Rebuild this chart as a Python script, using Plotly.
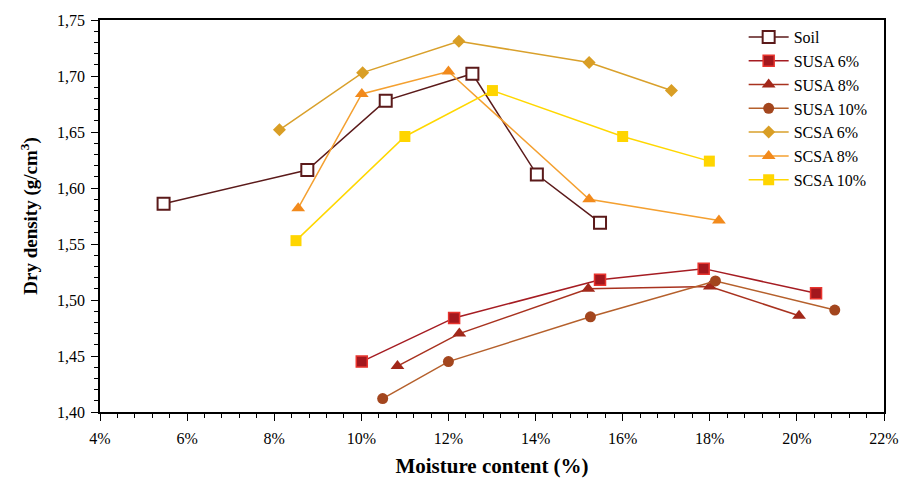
import plotly.graph_objects as go

# ---- data (moisture %, dry density g/cm3) ----
soil_x = [5.46, 8.76, 10.56, 12.55, 14.03, 15.48]
soil_y = [1.586, 1.616, 1.678, 1.702, 1.612, 1.569]

susa6_x = [10.01, 12.13, 15.48, 17.86, 20.44]
susa6_y = [1.445, 1.484, 1.518, 1.528, 1.506]

susa8_x = [10.83, 12.25, 15.21, 18.00, 20.05]
susa8_y = [1.441, 1.470, 1.510, 1.512, 1.486]

susa10_x = [10.49, 12.00, 15.26, 18.13, 20.87]
susa10_y = [1.412, 1.445, 1.485, 1.517, 1.491]

scsa6_x = [8.12, 10.03, 12.24, 15.23, 17.12]
scsa6_y = [1.652, 1.703, 1.731, 1.712, 1.687]

scsa8_x = [8.55, 10.01, 12.00, 15.23, 18.21]
scsa8_y = [1.582, 1.684, 1.704, 1.590, 1.571]

scsa10_x = [8.50, 11.00, 13.01, 16.00, 17.99]
scsa10_y = [1.553, 1.646, 1.687, 1.646, 1.624]

x_ticks = [4, 6, 8, 10, 12, 14, 16, 18, 20, 22]
x_tick_labels = ["4%", "6%", "8%", "10%", "12%", "14%", "16%", "18%", "20%", "22%"]
y_ticks = [1.40, 1.45, 1.50, 1.55, 1.60, 1.65, 1.70, 1.75]
y_tick_labels = ["1,40", "1,45", "1,50", "1,55", "1,60", "1,65", "1,70", "1,75"]

series = [
    ("Soil", soil_x, soil_y, "#5B1A1A", dict(symbol="square", size=12, color="white",
                                            line=dict(color="#5B1A1A", width=2))),
    ("SUSA 6%", susa6_x, susa6_y, "#A51C22", dict(symbol="square", size=11, color="#A3171D",
                                               line=dict(color="#E8342E", width=1.5))),
    ("SUSA 8%", susa8_x, susa8_y, "#A8321F", dict(symbol="triangle-up", size=12, color="#A2281A",
                                               line=dict(width=0))),
    ("SUSA 10%", susa10_x, susa10_y, "#B5602C", dict(symbol="circle", size=11, color="#A3461E",
                                                 line=dict(width=0))),
    ("SCSA 6%", scsa6_x, scsa6_y, "#D9A02B", dict(symbol="diamond", size=10, color="#D99E25",
                                               line=dict(width=0))),
    ("SCSA 8%", scsa8_x, scsa8_y, "#F4A030", dict(symbol="triangle-up", size=12, color="#F28A1C",
                                               line=dict(width=0))),
    ("SCSA 10%", scsa10_x, scsa10_y, "#FFD700", dict(symbol="square", size=11, color="#FFD500",
                                                 line=dict(width=0))),
]

fig = go.Figure()
for name, xs, ys, lc, mk in series:
    fig.add_trace(go.Scatter(x=xs, y=ys, name=name, mode="lines+markers",
                             line=dict(color=lc, width=1.5), marker=mk))

font_family = "Liberation Serif, Times New Roman, serif"

fig.update_layout(
    width=907, height=482,
    margin=dict(l=92, r=31, t=12, b=78, autoexpand=False),
    plot_bgcolor="white", paper_bgcolor="white",
    font=dict(family=font_family, size=16, color="black"),
    showlegend=True,
    legend=dict(x=0.821, y=1.0, xanchor="left", yanchor="top",
                bgcolor="rgba(0,0,0,0)", font=dict(size=16, family=font_family),
                tracegroupgap=0, itemwidth=40),
)

fig.update_xaxes(
    range=[4, 22], tickvals=x_ticks, ticktext=x_tick_labels, automargin=False,
    showgrid=False, zeroline=False,
    showline=True, linecolor="black", linewidth=1.5, mirror=True,
    ticks="outside", ticklen=7, tickwidth=1.2, tickcolor="black",
    ticklabelstandoff=4,
    minor=dict(dtick=0.4, ticks="outside", ticklen=4, tickwidth=1, tickcolor="black"),
    tickfont=dict(size=16, family=font_family),
    title=dict(text="<b>Moisture content (%)</b>", font=dict(size=21, family=font_family), standoff=12),
)
fig.update_yaxes(
    range=[1.40, 1.75], tickvals=y_ticks, ticktext=y_tick_labels, automargin=False,
    showgrid=False, zeroline=False,
    showline=True, linecolor="black", linewidth=1.5, mirror=True,
    ticks="outside", ticklen=7, tickwidth=1.2, tickcolor="black",
    ticklabelstandoff=3,
    minor=dict(dtick=0.01, ticks="outside", ticklen=4, tickwidth=1, tickcolor="black"),
    tickfont=dict(size=16, family=font_family),
    title=dict(text="<b>Dry density (g/cm<sup>3</sup>)</b>", font=dict(size=19, family=font_family), standoff=14),
)

fig.write_html("out.html")
